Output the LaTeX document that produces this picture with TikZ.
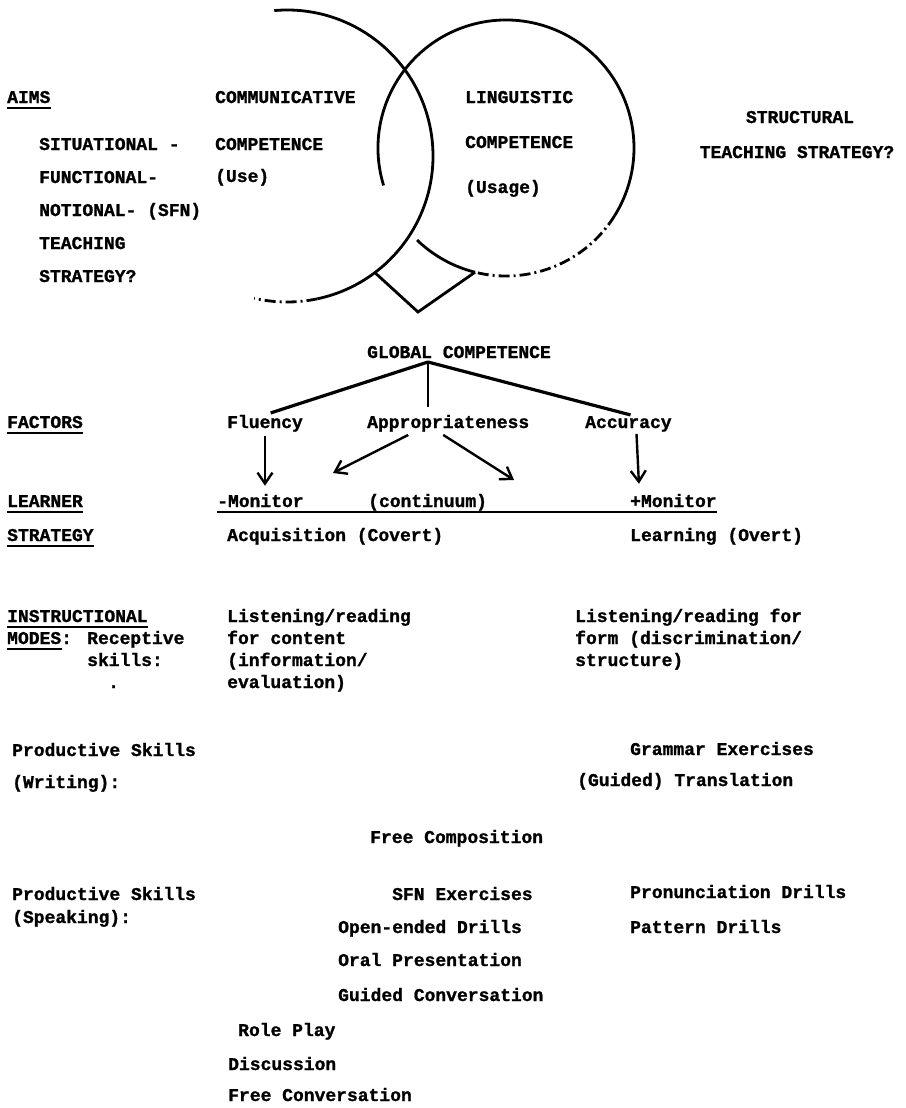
\documentclass[tikz,border=0pt]{standalone}
\usepackage{fontspec}
\setmainfont{Liberation Mono}[BoldFeatures={FakeBold=1.2}]
\usetikzlibrary{arrows.meta,calc}

\begin{document}
\begin{tikzpicture}[x=1pt,y=-1pt,
  txt/.style={anchor=base west,inner sep=0pt,font=\fontsize{18}{22}\selectfont\bfseries},
  txtc/.style={txt,anchor=base},
  uline/.style={line width=2pt},
  ring/.style={line width=2.8pt},
  broken/.style={ring,dash pattern=on 11pt off 4pt on 2pt off 4pt},
  branch/.style={line width=3.2pt},
  >={Straight Barb[length=11pt,width=15pt]},
  arr/.style={->,line width=2.4pt}]
\useasboundingbox (0,0) rectangle (905,1108);

% Circulos
\coordinate (cl) at (287,156);
\coordinate (cr) at (506,148);
\draw[ring] ($(cl)+(-95:146)$) arc[start angle=-95,end angle=78,radius=146];
\draw[broken] ($(cl)+(78:146)$) arc[start angle=78,end angle=103,radius=146];
\draw[ring] ($(cr)+(163:128)$) arc[start angle=163,end angle=392,radius=128];
\draw[broken] ($(cr)+(32:128)$) arc[start angle=32,end angle=104,radius=128];
\draw[ring] ($(cr)+(104:128)$) arc[start angle=104,end angle=134,radius=128];
\coordinate (vL) at ($(cl)+(53:146)$);
\coordinate (vB) at (418,312);
\coordinate (vR) at ($(cr)+(104:128)$);
\draw[ring] (vL) -- (vB) -- (vR);

% Objetivos
\node[txt] (aims) at (7,103) {AIMS};
\foreach \t [count=\i] in {SITUATIONAL -,FUNCTIONAL-,NOTIONAL- (SFN),TEACHING,STRATEGY?}
    \node[txt] (sfn\i) at (39,{117+33*\i}) {\t};
\node[txt] (comm1) at (215,103) {COMMUNICATIVE};
\node[txt] (comm2) at (215,150) {COMPETENCE};
\node[txt] (comm3) at (215,182) {(Use)};
\node[txt] (ling1) at (465,103) {LINGUISTIC};
\node[txt] (ling2) at (465,148) {COMPETENCE};
\node[txt] (ling3) at (465,193) {(Usage)};
\node[txtc] (struct1) at (800,123) {STRUCTURAL};
\node[txtc] (struct2) at (797,158) {TEACHING STRATEGY?};

% Arvore
\node[txt] (global) at (367,358) {GLOBAL COMPETENCE};
\coordinate (apex) at (428,362);
\node[txt] (factors) at (7,428) {FACTORS};
\node[txt] (fluency) at (227,428) {Fluency};
\node[txt] (appr) at (367,428) {Appropriateness};
\node[txt] (accuracy) at (585,428) {Accuracy};
\draw[branch,shorten >=6pt] (apex) -- (fluency.north);
\draw[line width=2pt,shorten >=8pt] (apex) -- (apex |- appr.north);
\draw[branch,shorten >=4pt] (apex) -- ([xshift=6pt]accuracy.north);

% Monitor
\node[txt] (learner) at (7,507) {LEARNER};
\node[txt] (monminus) at (217,507) {-Monitor};
\node[txt] (contin) at (368,507) {(continuum)};
\node[txt] (monplus) at (630,507) {+Monitor};
\draw[uline] ([yshift=-5pt]monminus.base west) -- ([yshift=-5pt]monplus.base east);
\coordinate (contL) at (333,473);
\coordinate (contR) at (514,480);
\draw[arr,shorten <=4pt,shorten >=8pt] (fluency.south) -- (fluency.south |- monminus.north);
\draw[arr] ([xshift=-40pt,yshift=-3pt]appr.south) -- (contL);
\draw[arr] ([xshift=-5pt,yshift=-3pt]appr.south) -- (contR);
\draw[arr,shorten <=2pt,shorten >=10pt] ([xshift=8pt]accuracy.south) -- ([xshift=11pt]accuracy.south |- monplus.north);
\node[txt] (strategy) at (7,541) {STRATEGY};
\node[txt] (acq) at (227,541) {Acquisition (Covert)};
\node[txt] (learn) at (630,541) {Learning (Overt)};

% Modos
\node[txt] (instr) at (7,622) {INSTRUCTIONAL};
\node[txt] (modes) at (7,644) {MODES:};
\node[txt] (recept) at (87,644) {Receptive};
\node[txt] (skills) at (87,666) {skills:};
\node[txt] (dot) at (108,688) {.};
\foreach \t [count=\i] in {{Listening/reading},{for content},{(information/},{evaluation)}}
    \node[txt] (lcont\i) at (227,{600+22*\i}) {\t};
\foreach \t [count=\i] in {{Listening/reading for},{form (discrimination/},{structure)}}
    \node[txt] (lform\i) at (575,{600+22*\i}) {\t};
\foreach \n in {aims,factors,learner,strategy,instr}
    \draw[uline] ([yshift=-5pt]\n.base west) -- ([yshift=-5pt]\n.base east);
\draw[uline] ([yshift=-5pt]modes.base west) -- ([xshift=-10pt,yshift=-5pt]modes.base east);

% Escrita
\node[txt] (prodw) at (12,756) {Productive Skills};
\node[txt] (writing) at (12,788) {(Writing):};
\node[txt] (grammar) at (630,755) {Grammar Exercises};
\node[txt] (transl) at (577,786) {(Guided) Translation};
\node[txt] (freecomp) at (370,843) {Free Composition};

% Fala
\node[txt] (prods) at (12,900) {Productive Skills};
\node[txt] (speaking) at (12,923) {(Speaking):};
\node[txt] (sfnex) at (392,900) {SFN Exercises};
\node[txt] (openend) at (338,933) {Open-ended Drills};
\node[txt] (oral) at (338,966) {Oral Presentation};
\node[txt] (guided) at (338,1001) {Guided Conversation};
\node[txt] (role) at (238,1036) {Role Play};
\node[txt] (discuss) at (228,1070) {Discussion};
\node[txt] (freeconv) at (228,1101) {Free Conversation};
\node[txt] (pron) at (630,898) {Pronunciation Drills};
\node[txt] (pattern) at (630,933) {Pattern Drills};
\end{tikzpicture}
\end{document}
